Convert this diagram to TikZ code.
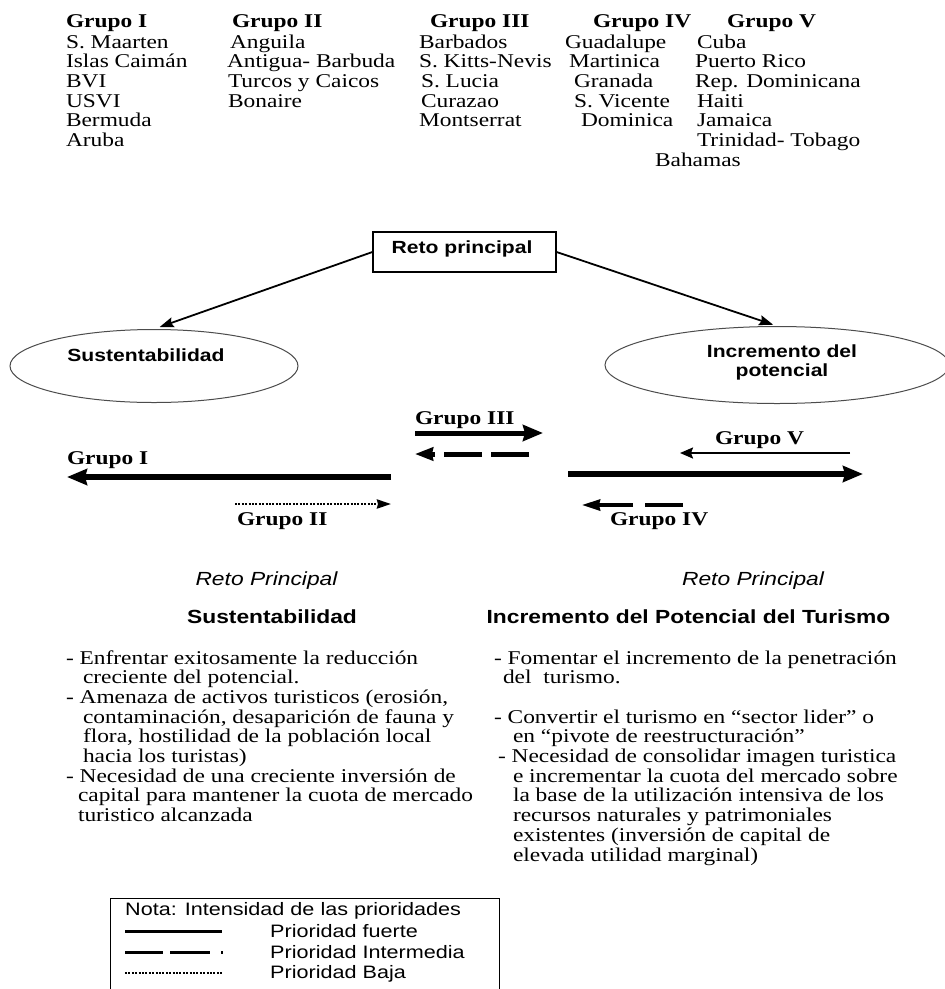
\documentclass[tikz,border=0pt]{standalone}
\usepackage{fontspec}
\setmainfont{Liberation Serif}[FakeStretch=1.2]
\setsansfont{Liberation Sans}[FakeStretch=1.2]
\usetikzlibrary{arrows.meta,shapes.geometric}
\newcommand{\serfont}{\fontsize{19.5}{19.7}\selectfont\rmfamily}
\newcommand{\serbold}{\fontsize{19.5}{19.7}\selectfont\rmfamily\bfseries}
\newcommand{\sansbold}{\fontsize{17.6}{18.5}\selectfont\sffamily\bfseries}
\newcommand{\headbold}{\fontsize{19}{20}\selectfont\sffamily\bfseries}
\newcommand{\headit}{\fontsize{19}{20}\selectfont\sffamily\itshape}
\newcommand{\legfont}{\fontsize{18}{19}\selectfont\sffamily}
\tikzset{
  tx/.style={anchor=base west, inner sep=0pt, outer sep=0pt, font=\serfont},
  hd/.style={tx, font=\serbold},
  txc/.style={anchor=base, inner sep=0pt, outer sep=0pt},
  lg/.style={anchor=base west, inner sep=0pt, font=\legfont},
  oval/.style={ellipse, draw=black!70, line width=1pt, inner sep=0pt},
  conn/.style={line width=1.8pt, -{Stealth[length=14pt,width=10pt,inset=2pt]}},
  strong/.style={line width=6pt, -{Stealth[length=20pt,width=16pt,inset=2pt]}},
  inter/.style={line width=5pt, -{Stealth[length=18pt,width=13pt,inset=1pt]}},
  thinarr/.style={line width=2pt, -{Stealth[length=13pt,width=11pt,inset=2pt]}},
  dots/.style={line width=2.6pt, dash pattern=on 2pt off 1.4pt},
}
\begin{document}
\begin{tikzpicture}[x=1pt,y=-1pt]
\clip (0,0) rectangle (945,989);
\fill[white] (0,0) rectangle (945,989);
% ---------- top table ----------
\node[hd] (h1) at (66,27) {Grupo I};
\node[hd] (h2) at (232,27) {Grupo II};
\node[hd] (h3) at (430,27) {Grupo III};
\node[hd] (h4) at (593,27) {Grupo IV};
\node[hd] (h5) at (727,27) {Grupo V};
% column I
\node[tx] (a1) at (66,48) {S. Maarten};
\node[tx] (a2) at (66,67.7) {Islas Caimán};
\node[tx] (a3) at (66,87.4) {BVI};
\node[tx] (a4) at (66,107) {USVI};
\node[tx] (a5) at (66,126.8) {Bermuda};
\node[tx] (a6) at (66,146.5) {Aruba};
% column II
\node[tx] (b1) at (230,48) {Anguila};
\node[tx] (b2) at (227,67.7) {Antigua- Barbuda};
\node[tx] (b3) at (228,87.4) {Turcos y Caicos};
\node[tx] (b4) at (228,107) {Bonaire};
% column III
\node[tx] (c1) at (419,48) {Barbados};
\node[tx] (c2) at (419,67.7) {S. Kitts-Nevis};
\node[tx] (c3) at (421,87.4) {S. Lucia};
\node[tx] (c4) at (421,107) {Curazao};
\node[tx] (c5) at (419,126.8) {Montserrat};
% column IV
\node[tx] (d1) at (565,48) {Guadalupe};
\node[tx] (d2) at (569,67.7) {Martinica};
\node[tx] (d3) at (574,87.4) {Granada};
\node[tx] (d4) at (574,107) {S. Vicente};
\node[tx] (d5) at (581,126.8) {Dominica};
% column V
\node[tx] (e1) at (697,48) {Cuba};
\node[tx] (e2) at (695,67.7) {Puerto Rico};
\node[tx] (e3) at (695,87.4) {Rep. Dominicana};
\node[tx] (e4) at (697,107) {Haiti};
\node[tx] (e5) at (697,126.8) {Jamaica};
\node[tx] (e6) at (697,146.5) {Trinidad- Tobago};
\node[tx] (e7) at (655,166) {Bahamas};
% ---------- middle diagram ----------
\node[draw, line width=1.2pt, minimum width=183pt, minimum height=40pt, inner sep=0pt] (reto) at (464.5,252) {};
\node[txc, font=\sansbold] (retot) at (462,253) {Reto principal};
\node[oval, minimum width=288pt, minimum height=73pt] (sus) at (154,366) {};
\node[txc, font=\sansbold] (sust) at (146,361) {Sustentabilidad};
\node[oval, minimum width=344pt, minimum height=77pt] (inc) at (777,365) {};
\node[txc, font=\sansbold] (inct1) at (782,357) {Incremento del};
\node[txc, font=\sansbold] (inct2) at (782,376) {potencial};
\draw[conn, shorten >=6pt] (reto.west) -- (sus.north);
\draw[conn, shorten >=4pt] (reto.east) -- (inc.north);
% group arrows
\coordinate (g1s) at (391,477); \coordinate (g1e) at (67,477);
\draw[strong] (g1s) -- (g1e);
\node[hd] (g1l) at (67,464) {Grupo I};
\coordinate (g2s) at (235,504); \coordinate (g2e) at (391,504);
\draw[dots, -{Stealth[length=14pt,width=9pt,inset=1pt]}] (g2s) -- (g2e);
\node[hd] (g2l) at (237,525) {Grupo II};
\coordinate (g3s) at (415,433); \coordinate (g3e) at (543,433);
\draw[strong, line width=5pt] (g3s) -- (g3e);
\node[hd] (g3l) at (415,424) {Grupo III};
\coordinate (g3bs) at (529,454); \coordinate (g3be) at (415,454);
\draw[inter, dash pattern=on 38pt off 9pt] (g3bs) -- (g3be);
\coordinate (g5s) at (850,453); \coordinate (g5e) at (680,453);
\draw[thinarr] (g5s) -- (g5e);
\node[hd] (g5l) at (715,444) {Grupo V};
\coordinate (gbs) at (568,474); \coordinate (gbe) at (863,474);
\draw[strong, line width=6.5pt] (gbs) -- (gbe);
\coordinate (g4s) at (683,505); \coordinate (g4e) at (582,505);
\draw[line width=3.5pt, dash pattern=on 38pt off 12pt on 60pt off 0pt, -{Stealth[length=18pt,width=11pt,inset=1pt]}] (g4s) -- (g4e);
\node[hd] (g4l) at (610,525) {Grupo IV};
% ---------- bottom texts ----------
\node[txc, font=\headit] (rp1) at (266.5,585) {Reto Principal};
\node[txc, font=\headit] (rp2) at (753,585) {Reto Principal};
\node[txc, font=\headbold] (hs1) at (272,623) {Sustentabilidad};
\node[txc, font=\headbold] (hs2) at (688.5,623) {Incremento del Potencial del Turismo};
% left list
\node[tx] (l1) at (66,664) {- Enfrentar exitosamente la reducción};
\node[tx] (l2) at (83,683.7) {creciente del potencial.};
\node[tx] (l3) at (66,703.4) {- Amenaza de activos turisticos (erosión,};
\node[tx] (l4) at (83,723) {contaminación, desaparición de fauna y};
\node[tx] (l5) at (83,742.7) {flora, hostilidad de la población local};
\node[tx] (l6) at (83,762.4) {hacia los turistas)};
\node[tx] (l7) at (66,782) {- Necesidad de una creciente inversión de};
\node[tx] (l8) at (78,801.8) {capital para mantener la cuota de mercado};
\node[tx] (l9) at (78,821.5) {turistico alcanzada};
% right list
\node[tx] (r1) at (494,664) {- Fomentar el incremento de la penetración};
\node[tx] (r2) at (503,683.7) {del\ \ turismo.};
\node[tx] (r3) at (494,723) {- Convertir el turismo en “sector lider” o};
\node[tx] (r4) at (513,742.7) {en “pivote de reestructuración”};
\node[tx] (r5) at (498,762.4) {- Necesidad de consolidar imagen turistica};
\node[tx] (r6) at (513,782) {e incrementar la cuota del mercado sobre};
\node[tx] (r7) at (513,801.8) {la base de la utilización intensiva de los};
\node[tx] (r8) at (513,821.5) {recursos naturales y patrimoniales};
\node[tx] (r9) at (513,841.2) {existentes (inversión de capital de};
\node[tx] (r10) at (513,861) {elevada utilidad marginal)};
% ---------- legend ----------
\node[draw, line width=1.2pt, minimum width=389pt, minimum height=120pt, inner sep=0pt, anchor=north west] (leg) at (110,898) {};
\node[lg] (nota) at (125,915) {Nota: Intensidad de las prioridades};
\coordinate (ls1) at (125,931); \coordinate (ls2) at (222,931);
\draw[line width=3pt] (ls1) -- (ls2);
\node[lg] (pf) at (270,937) {Prioridad fuerte};
\coordinate (lm1) at (125,952); \coordinate (lm2) at (223,952);
\draw[line width=3pt, dash pattern=on 38pt off 7pt on 40pt off 11pt on 2pt off 10pt] (lm1) -- (lm2);
\node[lg] (pi) at (270,958) {Prioridad Intermedia};
\coordinate (lb1) at (125,973); \coordinate (lb2) at (222,973);
\draw[dots] (lb1) -- (lb2);
\node[lg] (pb) at (270,978) {Prioridad Baja};
\end{tikzpicture}
\end{document}
